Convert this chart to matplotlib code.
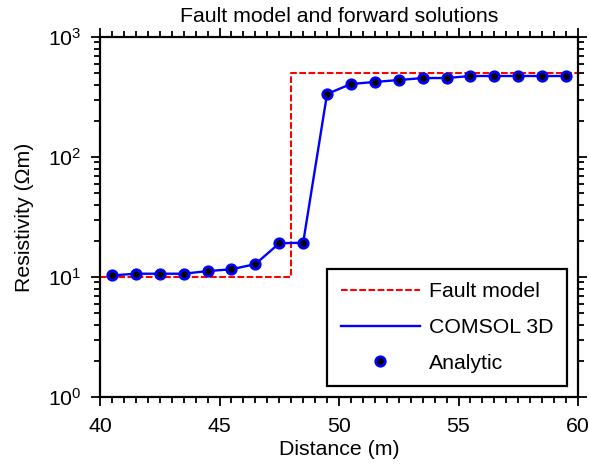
import matplotlib
matplotlib.use("Agg")
import matplotlib.pyplot as plt
from matplotlib.ticker import MultipleLocator, LogLocator, NullFormatter

plt.rcParams['font.family'] = ['Liberation Sans', 'DejaVu Sans']
plt.rcParams['mathtext.fontset'] = 'custom'
plt.rcParams['mathtext.rm'] = 'Liberation Sans'
plt.rcParams['mathtext.it'] = 'Liberation Sans:italic'

# Step fault resistivity model
fault_x = [40, 48, 48, 60]
fault_rho = [10, 10, 500, 500]

# Station positions and apparent resistivity
distance = [40.5, 41.5, 42.5, 43.5, 44.5, 45.5, 46.5, 47.5, 48.5, 49.5,
            50.5, 51.5, 52.5, 53.5, 54.5, 55.5, 56.5, 57.5, 58.5, 59.5]
comsol_rho = [10.3, 10.65, 10.65, 10.65, 11.2, 11.6, 12.8, 19.1, 19.3, 335,
              406, 422, 438, 455, 455, 473, 473, 473, 473, 473]
analytic_rho = [10.3, 10.65, 10.65, 10.65, 11.2, 11.6, 12.8, 19.1, 19.3, 335,
                406, 422, 438, 455, 455, 473, 473, 473, 473, 473]

fs = 15.3
fig = plt.figure(figsize=(5.89, 4.74), dpi=100)
ax = fig.add_axes([100 / 589, 1 - 397 / 474, 478 / 589, 360 / 474])

ax.plot(fault_x, fault_rho, color='#ff0000', lw=1.5, dashes=(3.2, 1.2),
        label='Fault model')
ax.plot(distance, comsol_rho, color='#0000ff', lw=1.7, label='COMSOL 3D')
ax.plot(distance, analytic_rho, ls='none', marker='o', ms=6.8,
        mfc='black', mec='#0000ff', mew=2.0, label='Analytic')

ax.set_yscale('log')
ax.set_xlim(40, 60)
ax.set_ylim(1, 1000)
ax.xaxis.set_major_locator(MultipleLocator(5))
ax.xaxis.set_minor_locator(MultipleLocator(0.5))
ax.yaxis.set_major_locator(LogLocator(base=10, numticks=10))
ax.yaxis.set_minor_locator(LogLocator(base=10, subs=range(2, 10), numticks=10))
ax.yaxis.set_minor_formatter(NullFormatter())

for side in ax.spines.values():
    side.set_linewidth(1.6)
ax.tick_params(which='both', direction='out', top=True, right=True,
               width=1.3, labelsize=fs)
ax.tick_params(which='major', length=6.5)
ax.tick_params(which='minor', length=4)
ax.tick_params(axis='x', which='major', pad=8)
ax.tick_params(axis='y', which='major', pad=7)

ax.set_title('Fault model and forward solutions', fontsize=fs, pad=11)
ax.set_xlabel('Distance (m)', fontsize=fs, labelpad=3)
ax.set_ylabel('Resistivity (Ωm)', fontsize=fs, labelpad=10)

leg = ax.legend(loc='lower right', fontsize=fs, frameon=True, fancybox=False,
                edgecolor='black', framealpha=1, borderpad=0.65,
                borderaxespad=0.5, handlelength=3.7, handletextpad=0.45,
                labelspacing=0.78, numpoints=1)
leg.get_frame().set_linewidth(1.6)

fig.savefig('out.png', dpi=100)
